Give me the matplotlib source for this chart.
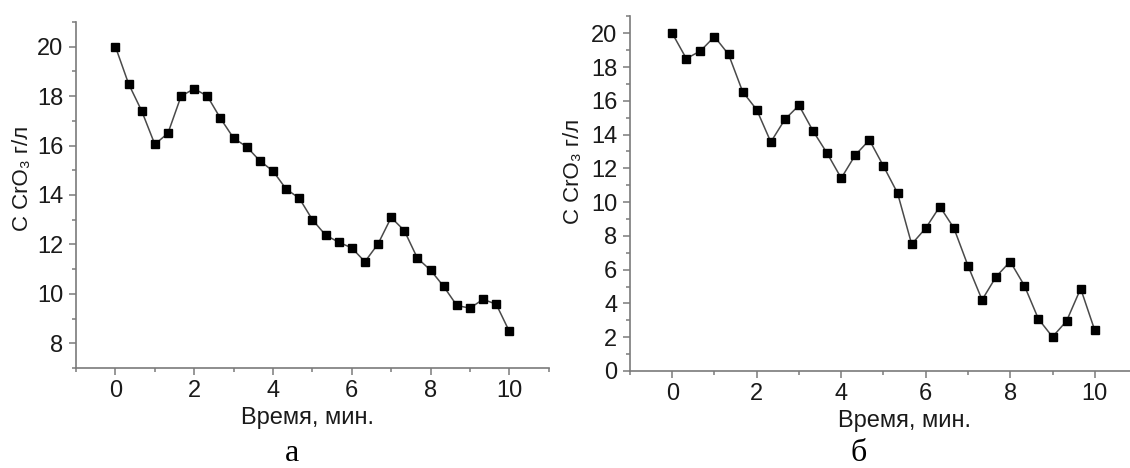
import numpy as np
import matplotlib
matplotlib.use("Agg")
import matplotlib.pyplot as plt
from matplotlib.ticker import MultipleLocator

plt.rcParams['font.family'] = ['Liberation Sans', 'DejaVu Sans']

# time points, every 20 s over 10 min
time_min = [i / 3 for i in range(31)]

# panel a
conc_a = [20.0, 18.5, 17.4, 16.05, 16.5, 18.0, 18.3, 18.0, 17.1, 16.3,
          15.95, 15.38, 14.97, 14.24, 13.87, 13.0, 12.38, 12.09, 11.86, 11.3,
          12.02, 13.09, 12.56, 11.44, 10.96, 10.3, 9.53, 9.42, 9.78, 9.58,
          8.48]

# panel b
conc_b = [20.0, 18.5, 18.95, 19.8, 18.75, 16.54, 15.47, 13.56, 14.9, 15.73,
          14.21, 12.89, 11.42, 12.79, 13.68, 12.13, 10.53, 7.51, 8.46, 9.74,
          8.46, 6.23, 4.21, 5.59, 6.48, 5.06, 3.08, 2.02, 2.96, 4.88,
          2.41]

x_label = "Время, мин."
y_label = "C CrO\u2083 г/л"
panel_labels = ["а", "б"]

txt = "#1a1a1a"
spine_col = "#7a7a7a"

fig = plt.figure(figsize=(11.3, 4.68), dpi=100)

# [left, bottom, width, height] in figure fractions
ax_a = fig.add_axes([0.0673, 0.2137, 0.4183, 0.7393])
ax_b = fig.add_axes([0.5575, 0.2073, 0.4487, 0.7577])


def style(ax, ylim, lab_x, lab_y, ylab_x, ylab_y):
    ax.set_xlim(-1, 11)
    ax.set_ylim(*ylim)
    ax.xaxis.set_major_locator(MultipleLocator(2))
    ax.xaxis.set_minor_locator(MultipleLocator(1))
    ax.yaxis.set_major_locator(MultipleLocator(2))
    ax.yaxis.set_minor_locator(MultipleLocator(1))
    for s in ["top", "right"]:
        ax.spines[s].set_visible(False)
    for s in ["left", "bottom"]:
        ax.spines[s].set_color(spine_col)
        ax.spines[s].set_linewidth(1.2)
    ax.tick_params(which="major", direction="out", length=5, width=1.1,
                   color=spine_col, labelsize=17, labelcolor=txt, pad=4)
    ax.tick_params(which="minor", direction="out", length=3, width=1.1,
                   color=spine_col)
    ax.set_xlabel(x_label, fontsize=17, color=txt, va="center", ha="center")
    ax.xaxis.set_label_coords(lab_x, lab_y)
    ax.set_ylabel(y_label, fontsize=16, color=txt, va="center", ha="center")
    ax.yaxis.set_label_coords(ylab_x, ylab_y)


ax_a.plot(time_min, conc_a, color="#4a4a4a", linewidth=1.1,
          marker="s", markersize=6, markerfacecolor="black",
          markeredgecolor="black")
style(ax_a, (7, 21), 0.489, -0.1445, -0.114, 0.549)

ax_b.plot(time_min, conc_b, color="#4a4a4a", linewidth=1.1,
          marker="s", markersize=6, markerfacecolor="black",
          markeredgecolor="black")
style(ax_b, (0, 21), 0.542, -0.141, -0.112, 0.562)

fig.text(292 / 1130, 0.001, panel_labels[0], family="Liberation Serif",
         fontsize=23, color="black", ha="center", va="bottom")
fig.text(859 / 1130, 0.001, panel_labels[1], family="Liberation Serif",
         fontsize=23, color="black", ha="center", va="bottom")

fig.savefig("out.png", dpi=100)
